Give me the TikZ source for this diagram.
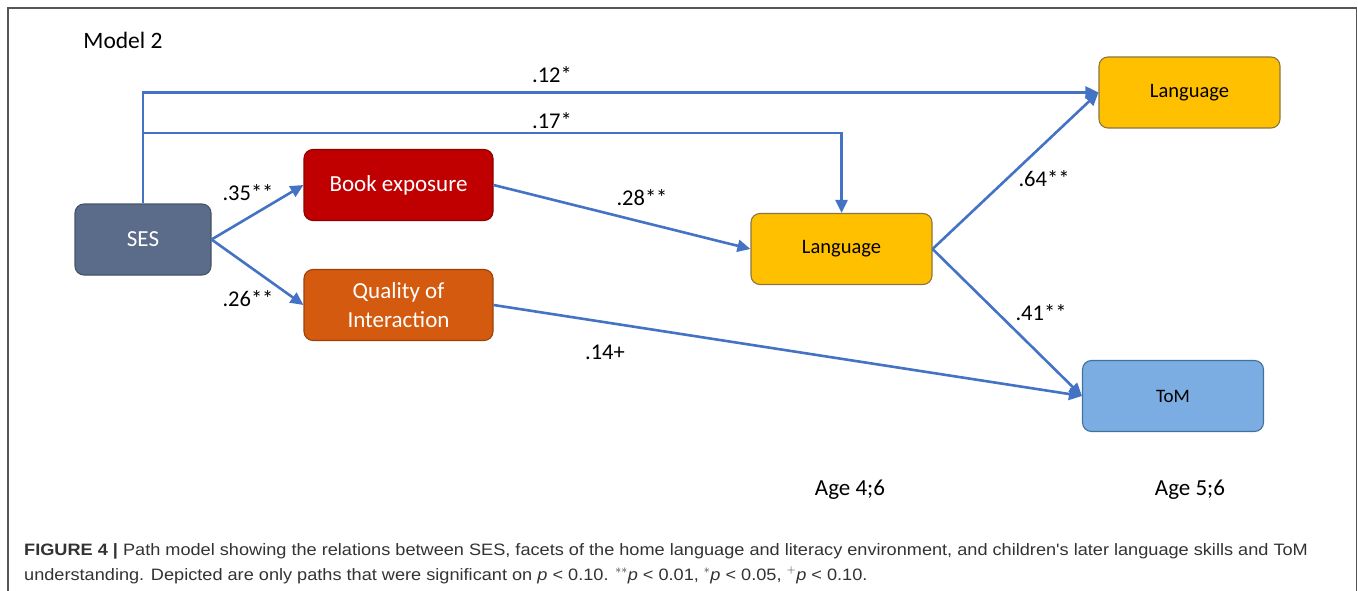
\documentclass[tikz,border=0pt]{standalone}
\usepackage{fontspec}
\setmainfont{Carlito}
\newfontfamily\capfont[FakeStretch=1.1]{Liberation Sans}
\usetikzlibrary{arrows.meta}
\definecolor{arrowblue}{HTML}{4472C4}
\definecolor{sesfill}{HTML}{5B6B8A}
\definecolor{sesdraw}{HTML}{44546A}
\definecolor{bookfill}{HTML}{C00000}
\definecolor{bookdraw}{HTML}{8E0000}
\definecolor{qualfill}{HTML}{D35A0E}
\definecolor{qualdraw}{HTML}{9C4209}
\definecolor{langfill}{HTML}{FFC000}
\definecolor{langdraw}{HTML}{8C7640}
\definecolor{tomfill}{HTML}{7BADE2}
\definecolor{tomdraw}{HTML}{41719C}
\definecolor{captext}{HTML}{333333}
\definecolor{framecol}{HTML}{555555}
\begin{document}
\begin{tikzpicture}[x=1pt,y=-1pt,
  box/.style={rounded corners=9pt, line width=1.1pt, minimum width=181pt, minimum height=71pt, inner sep=0pt, align=center},
  whitebox/.style={box, text=white, font=\fontsize{23}{29}\selectfont},
  darkbox/.style={box, text=black, font=\fontsize{20.5}{24}\selectfont},
  arr/.style={draw=arrowblue, line width=2.6pt, -{Triangle[length=13pt,width=12pt]}},
  lbl/.style={font=\fontsize{22.5}{26}\selectfont, inner sep=0pt},
  capstyle/.style={font=\capfont\fontsize{16.5}{20}\selectfont, text=captext, anchor=base west, inner sep=0pt}]
\useasboundingbox (0,0) rectangle (1358,591);
\fill[white] (0,0) rectangle (1358,591);
\draw[framecol, line width=1.3pt] (8,600) -- (8,8) -- (1356.5,8) -- (1356.5,600);

\node[lbl, font=\fontsize{23.5}{28}\selectfont] (model) at (123,40) {Model 2};

\node[whitebox, fill=sesfill, draw=sesdraw, minimum width=136pt] (ses) at (143,239.5) {SES};
\node[whitebox, fill=bookfill, draw=bookdraw, minimum width=189pt] (book) at (398.5,185) {Book exposure};
\node[whitebox, fill=qualfill, draw=qualdraw, minimum width=189pt] (qual) at (398.5,305) {Quality of\\Interaction};
\node[darkbox, fill=langfill, draw=langdraw] (langmid) at (841.5,249) {Language};
\node[darkbox, fill=langfill, draw=langdraw] (langtop) at (1189.5,92.5) {Language};
\node[darkbox, fill=tomfill, draw=tomdraw, font=\fontsize{19}{23}\selectfont] (tom) at (1173,396) {ToM};

\coordinate (branch) at (143,133);
\draw[arr] (ses.north) |- (langtop.west);
\draw[arr] (branch) -| (langmid.north);
\draw[arr] (ses.east) -- (book.west);
\draw[arr] (ses.east) -- (qual.west);
\draw[arr] (book.east) -- (langmid.west);
\draw[arr] (langmid.east) -- (langtop.west);
\draw[arr] (langmid.east) -- (tom.west);
\draw[arr] (qual.east) -- (tom.west);

\node[lbl] (l12) at (552,75) {.12*};
\node[lbl] (l17) at (552,121) {.17*};
\node[lbl] (l35) at (248,193) {.35**};
\node[lbl] (l26) at (248,299) {.26**};
\node[lbl] (l28) at (642,198) {.28**};
\node[lbl] (l64) at (1044,179) {.64**};
\node[lbl] (l41) at (1041,313) {.41**};
\node[lbl] (l14) at (605,352) {.14+};
\node[lbl, font=\fontsize{23}{27}\selectfont] (age4) at (850,490) {Age 4;6};
\node[lbl, font=\fontsize{23}{27}\selectfont] (age5) at (1190,490) {Age 5;6};

\node[capstyle] (cap1) at (24,555) {\textbf{FIGURE 4 |} Path model showing the relations between SES, facets of the home language and literacy environment, and children's later language skills and ToM};
\node[capstyle] (cap2) at (24,580) {understanding. Depicted are only paths that were significant on \textit{p} < 0.10. $^{**}$\textit{p} < 0.01, $^{*}$\textit{p} < 0.05, $^{+}$\textit{p} < 0.10.};
\end{tikzpicture}
\end{document}
